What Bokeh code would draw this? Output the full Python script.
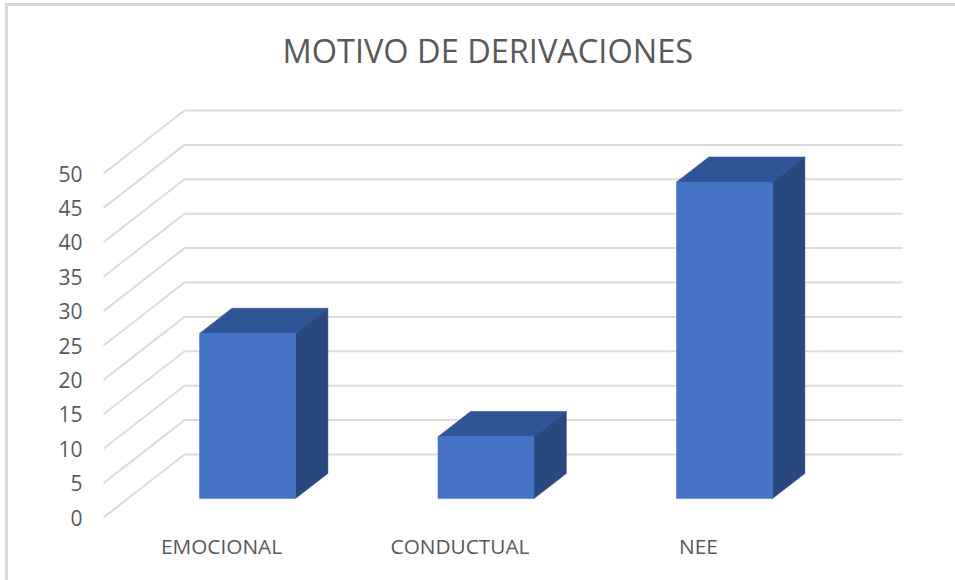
from bokeh.plotting import figure
from bokeh.embed import file_html
from bokeh.resources import INLINE
from bokeh.models import Range1d, FixedTicker

# ---- data ----
categories = ["EMOCIONAL", "CONDUCTUAL", "NEE"]
values = [24, 9, 46]
y_ticks = [0, 5, 10, 15, 20, 25, 30, 35, 40, 45, 50]
title_text = "MOTIVO DE DERIVACIONES"

# ---- layout (pixels on the page) ----
W, H = 955, 580
F_L, F_R, F_T, F_B = 92, 955, 90, 528     # plot frame
Y0_PX, PX_PER_UNIT = 517, 6.88            # front floor edge, vertical scale
X0_PX, PX_PER_CAT = 221, 238.5            # label position of the first category
DEPTH_DX = 81 / PX_PER_CAT                # full floor depth in data units
DEPTH_DY = 63 / PX_PER_UNIT
BAR_OFF = -46.3 / PX_PER_CAT              # bar left edge vs label centre
BAR_W = 96 / PX_PER_CAT
D0, D1 = 0.30, 0.70                       # bar's depth extent

TEXT = "#595959"
GRID = "#dcdcdc"
EDGE = "#d9d9d9"
FRONT, TOP, SIDE = "#4472C4", "#2F5597", "#29487D"

p = figure(
    width=W, height=H, output_backend="svg", toolbar_location=None,
    x_range=Range1d((F_L - X0_PX) / PX_PER_CAT, (F_R - X0_PX) / PX_PER_CAT),
    y_range=Range1d((Y0_PX - F_B) / PX_PER_UNIT, (Y0_PX - F_T) / PX_PER_UNIT),
    min_border_left=F_L, min_border_right=W - F_R,
    min_border_top=F_T, min_border_bottom=H - F_B,
    outline_line_color=None, background_fill_color="white",
    border_fill_color=None,
    margin=(0, 0, 0, 0),
    styles={
        "background-color": "white",
        "background-image": f"linear-gradient({EDGE},{EDGE}),linear-gradient({EDGE},{EDGE})",
        "background-size": f"3px {H}px, {W}px 3px",
        "background-position": "5px 3px, 5px 3px",
        "background-repeat": "no-repeat",
    },
)
p.grid.visible = False

# title
p.title.text = title_text
p.title.align = "left"
p.title.offset = 282 - F_L
p.title.text_font = "Open Sans"
p.title.text_font_size = "32.5px"
p.title.text_font_style = "normal"
p.title.text_color = TEXT
p.title.standoff = 35

# axes
p.yaxis.ticker = FixedTicker(ticks=y_ticks)
p.yaxis.axis_line_color = None
p.yaxis.major_tick_line_color = None
p.yaxis.minor_tick_line_color = None
p.yaxis.major_tick_out = 0
p.yaxis.major_tick_in = 0
p.yaxis.major_label_standoff = 10
p.yaxis.major_label_text_font = "Open Sans"
p.yaxis.major_label_text_font_size = "21px"
p.yaxis.major_label_text_color = TEXT

p.xaxis.ticker = FixedTicker(ticks=list(range(len(categories))))
p.xaxis.major_label_overrides = {i: c for i, c in enumerate(categories)}
p.xaxis.axis_line_color = None
p.xaxis.major_tick_line_color = None
p.xaxis.minor_tick_line_color = None
p.xaxis.major_tick_out = 0
p.xaxis.major_tick_in = 0
p.xaxis.major_label_standoff = 3
p.xaxis.major_label_text_font = "Open Sans"
p.xaxis.major_label_text_font_size = "20.8px"
p.xaxis.major_label_text_color = TEXT

# wall and floor gridlines
x_front = (103 - X0_PX) / PX_PER_CAT
x_back = x_front + DEPTH_DX
x_end = (902 - X0_PX) / PX_PER_CAT
for v in y_ticks:
    p.line([x_front, x_back, x_end], [v, v + DEPTH_DY, v + DEPTH_DY],
           line_color=GRID, line_width=2)

# 3-D columns
def pt(x, v, d):
    return x + d * DEPTH_DX, v + d * DEPTH_DY

fx, fy, tx, ty, sx, sy = [], [], [], [], [], []
for i, v in enumerate(values):
    l = i + BAR_OFF
    r = l + BAR_W
    a, b = pt(l, 0, D0), pt(r, 0, D0)
    c, e = pt(r, v, D0), pt(l, v, D0)
    f, g = pt(r, v, D1), pt(l, v, D1)
    h = pt(r, 0, D1)
    fx.append([a[0], b[0], c[0], e[0]]); fy.append([a[1], b[1], c[1], e[1]])
    tx.append([e[0], c[0], f[0], g[0]]); ty.append([e[1], c[1], f[1], g[1]])
    sx.append([b[0], h[0], f[0], c[0]]); sy.append([b[1], h[1], f[1], c[1]])
p.patches(tx, ty, fill_color=TOP, line_color=TOP, line_width=0.5)
p.patches(sx, sy, fill_color=SIDE, line_color=SIDE, line_width=0.5)
p.patches(fx, fy, fill_color=FRONT, line_color=FRONT, line_width=0.5)

open("out.html", "w").write(file_html(p, INLINE))
